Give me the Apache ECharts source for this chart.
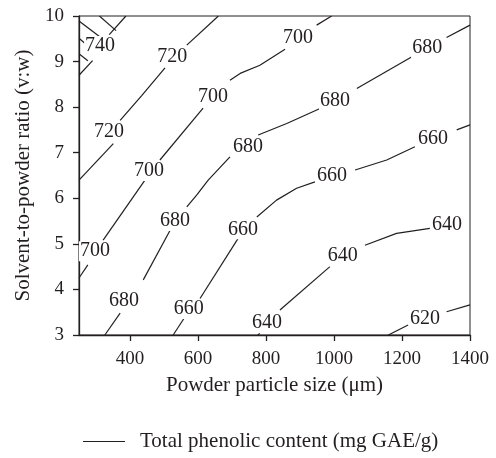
<!DOCTYPE html>
<html><head><meta charset="utf-8">
<script src="https://cdn.jsdelivr.net/npm/echarts@6/dist/echarts.min.js"></script>
<style>html,body{margin:0;padding:0;background:#fff}#c{width:496px;height:458px}</style>
</head><body><div id="c"></div>
<script>
// ---- data ----
const xTicks = [400, 600, 800, 1000, 1200, 1400];
const yTicks = [3, 4, 5, 6, 7, 8, 9, 10];
const seriesName = 'Total phenolic content (mg GAE/g)';
const xName = 'Powder particle size (μm)';
const yName = 'Solvent-to-powder ratio (v:w)';

// contour segments ([x, y] points), broken where labels sit
const contour740 = [[[250, 8.70], [290, 9.02]], [[339, 9.59], [388, 10]]];
const hatch740 = [[[310, 10], [359, 9.68]], [[250, 9.89], [312, 9.54]], [[250, 9.51], [280, 9.32]], [[250, 9.17], [276, 9.02]]];
const contour720 = [[[660, 10], [567, 9.36]], [[503, 8.86], [435, 8.26], [371, 7.71]], [[351, 7.20], [250, 6.40]]];
const contour700 = [[[993, 10], [949, 9.80]], [[856, 9.27], [782, 8.92], [724, 8.74], [694, 8.59]], [[615, 7.98], [488, 6.84]], [[444, 6.40], [321, 5.08]], [[276, 4.54], [250, 4.25]]];
const contour680 = [[[1400, 9.80], [1331, 9.53]], [[1228, 9.10], [1067, 8.41]], [[959, 7.97], [861, 7.64], [777, 7.39]], [[694, 6.91], [630, 6.40], [596, 6.07], [567, 5.81]], [[518, 5.30], [439, 4.21]], [[371, 3.48], [326, 3]]];
const contour660 = [[[1400, 7.61], [1361, 7.50]], [[1238, 7.13], [1155, 6.84], [1062, 6.62]], [[944, 6.36], [890, 6.22], [831, 5.96], [773, 5.59]], [[718, 5.12], [606, 3.80]], [[562, 3.40], [527, 3]]];
const contour640 = [[[1282, 5.34], [1184, 5.23], [1091, 4.97]], [[988, 4.50], [841, 3.55]], [[782, 3.04], [776, 3]]];
const contour620 = [[[1400, 3.66], [1331, 3.51]], [[1218, 3.22], [1160, 3]]];

// contour labels [x, y, text]
const contourLabels = [
  [312, 9.34, '740'],
  [524, 9.10, '720'], [338, 7.45, '720'],
  [894, 9.52, '700'], [644, 8.22, '700'], [456, 6.60, '700'], [297, 4.84, '700'],
  [1274, 9.30, '680'], [1003, 8.13, '680'], [747, 7.14, '680'], [532, 5.50, '680'], [382, 3.75, '680'],
  [1291, 7.30, '660'], [994, 6.49, '660'], [732, 5.32, '660'], [573, 3.57, '660'],
  [1332, 5.43, '640'], [1026, 4.73, '640'], [803, 3.26, '640'],
  [1268, 3.35, '620']
];

// ---- chart ----
const INK = '#231f20';
const FONT = "'Liberation Serif', 'Times New Roman', serif";
const series = [];
[contour740, hatch740, contour720, contour700, contour680, contour660, contour640, contour620].forEach(c => {
  c.forEach(seg => series.push({
    type: 'line', name: seriesName, data: seg, symbol: 'none',
    lineStyle: { color: INK, width: 1.2 }, itemStyle: { color: INK },
    silent: true, animation: false
  }));
});
series.push({
  type: 'scatter', name: 'labels',
  data: contourLabels.map(l => ({ value: [l[0], l[1]], name: l[2] })),
  symbolSize: 1, itemStyle: { color: '#fff', opacity: 1 }, z: 5, silent: true, animation: false,
  labelLayout: { hideOverlap: false },
  label: { show: true, position: 'inside', offset: [0, 1], formatter: '{b}', fontFamily: FONT, fontSize: 20, color: INK, opacity: 1, textBorderWidth: 0, backgroundColor: '#fff', padding: [0, 1] }
});

const chart = echarts.init(document.getElementById('c'), null, { renderer: 'canvas' });
chart.setOption({
  animation: false,
  grid: { left: 79, right: 26, top: 16, bottom: 123, show: true, borderColor: INK, borderWidth: 1, backgroundColor: 'transparent' },
  legend: {
    data: [{ name: seriesName, icon: 'rect' }], left: 83, top: 431, padding: 0, itemWidth: 42, itemHeight: 1.2,
    itemStyle: { color: INK },
    textStyle: { fontFamily: FONT, fontSize: 21, color: INK, padding: [0, 0, 0, 10] }
  },
  xAxis: {
    type: 'value', min: 250, max: 1400,
    name: xName, nameLocation: 'middle', nameGap: 40,
    nameTextStyle: { fontFamily: FONT, fontSize: 21, color: INK },
    axisLine: { show: true, lineStyle: { color: INK, width: 1.3 } },
    axisTick: { show: true, length: 6, customValues: xTicks, lineStyle: { color: INK, width: 1.3 } },
    axisLabel: { customValues: xTicks, formatter: v => String(v), fontFamily: FONT, fontSize: 19, color: INK, margin: 15 },
    splitLine: { show: false }
  },
  yAxis: {
    type: 'value', min: 3, max: 10, interval: 1,
    name: yName, nameLocation: 'middle', nameGap: 37,
    nameTextStyle: { fontFamily: FONT, fontSize: 21, color: INK },
    axisLine: { show: true, lineStyle: { color: INK, width: 1.3 } },
    axisTick: { show: true, length: 6, customValues: yTicks, lineStyle: { color: INK, width: 1.3 } },
    axisLabel: { customValues: yTicks, formatter: v => String(v), fontFamily: FONT, fontSize: 19, color: INK, margin: 15 },
    splitLine: { show: false }
  },
  series: series
});
</script></body></html>
